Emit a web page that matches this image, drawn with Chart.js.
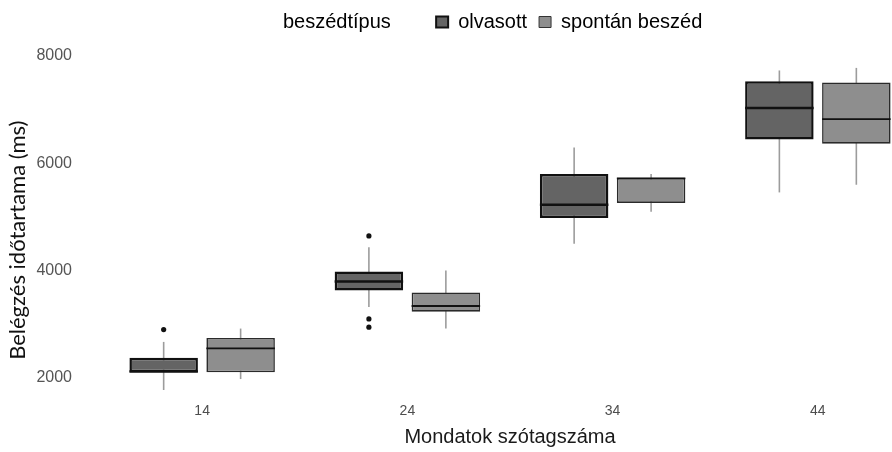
<!DOCTYPE html>
<html>
<head>
<meta charset="utf-8">
<script src="https://cdn.jsdelivr.net/npm/chart.js@4/dist/chart.umd.min.js"></script>
<style>
    body { margin: 0; background: #fff; overflow: hidden; }
    #wrap { width: 941px; height: 452px; }
</style>
</head>
<body>
<div id="wrap"><canvas id="boxChart"></canvas></div>
<script>
// Categories (sentence length in syllables)
const groups = ['14', '24', '34', '44'];
const xPos = [1, 2, 3, 4];
const yTicks = [2000, 4000, 6000, 8000];

// olvasott (read speech)
const readLow  = [1768, 3316, 4494, 5454];
const readQ1   = [2097, 3626, 4978, 6439];
const readMed  = [2115, 3794, 5225, 7028];
const readQ3   = [2368, 3980, 5796, 7530];
const readHigh = [2665, 4431, 6290, 7729];
const readOut  = [[2896], [4643, 3093, 2939], [], []];

// spontán beszéd (spontaneous speech)
const spontLow  = [1972, 2914, 5095, 5597];
const spontQ1   = [2097, 3230, 5257, 6364];
const spontMed  = [2543, 3335, 5715, 6823];
const spontQ3   = [2740, 3589, 5727, 7506];
const spontHigh = [2914, 3998, 5796, 7777];
const spontOut  = [[], [], [], []];

const DARK = '#646464';
const LIGHT = '#8e8e8e';

// per dataset extras for the plugin
const boxStats = [
    { low: readLow, med: readMed, high: readHigh, out: readOut, medWidth: 2.5 },
    { low: spontLow, med: spontMed, high: spontHigh, out: spontOut, medWidth: 1.8 }
];

// Whiskers behind, medians + outliers on top
const boxplotPlugin = {
    id: 'boxplotParts',
    beforeDatasetsDraw(chart) {
        const ctx = chart.ctx;
        const y = chart.scales.y;
        ctx.save();
        ctx.strokeStyle = '#9c9c9c';
        ctx.lineWidth = 1.6;
        boxStats.forEach((s, i) => {
            chart.getDatasetMeta(i).data.forEach((el, j) => {
                ctx.beginPath();
                ctx.moveTo(el.x, y.getPixelForValue(s.low[j]));
                ctx.lineTo(el.x, y.getPixelForValue(s.high[j]));
                ctx.stroke();
            });
        });
        ctx.restore();
    },
    afterDatasetsDraw(chart) {
        const ctx = chart.ctx;
        const y = chart.scales.y;
        ctx.save();
        boxStats.forEach((s, i) => {
            chart.getDatasetMeta(i).data.forEach((el, j) => {
                const half = el.width / 2;
                const py = y.getPixelForValue(s.med[j]);
                ctx.strokeStyle = '#111';
                ctx.lineWidth = s.medWidth;
                ctx.beginPath();
                ctx.moveTo(el.x - half, py);
                ctx.lineTo(el.x + half, py);
                ctx.stroke();

                ctx.fillStyle = '#111';
                s.out[j].forEach(v => {
                    ctx.beginPath();
                    ctx.arc(el.x, y.getPixelForValue(v), 2.6, 0, Math.PI * 2);
                    ctx.fill();
                });
            });
        });
        ctx.restore();
    }
};

const ctx = document.getElementById('boxChart').getContext('2d');

new Chart(ctx, {
    type: 'bar',
    data: {
        datasets: [
            {
                label: 'olvasott',
                data: xPos.map((x, i) => ({ x: x, y: [readQ1[i], readQ3[i]] })),
                backgroundColor: DARK,
                borderColor: '#111',
                borderWidth: 2.5,
                borderSkipped: false
            },
            {
                label: 'spontán beszéd',
                data: xPos.map((x, i) => ({ x: x, y: [spontQ1[i], spontQ3[i]] })),
                backgroundColor: LIGHT,
                borderColor: '#2a2a2a',
                borderWidth: 1.6,
                borderSkipped: false
            }
        ]
    },
    options: {
        responsive: true,
        maintainAspectRatio: false,
        animation: false,
        barPercentage: 0.89,
        categoryPercentage: 0.75,
        layout: { padding: 0 },
        plugins: {
            tooltip: { enabled: false },
            legend: {
                position: 'top',
                onClick: null,
                labels: {
                    boxWidth: 12,
                    boxHeight: 11,
                    padding: 12,
                    color: '#111',
                    font: { family: "'Liberation Sans', Arial, sans-serif", size: 20 },
                    generateLabels: () => [
                        { text: '    beszédtípus      ', fillStyle: 'rgba(0,0,0,0)', strokeStyle: 'rgba(0,0,0,0)', lineWidth: 0, datasetIndex: -1 },
                        { text: 'olvasott', fillStyle: DARK, strokeStyle: '#111', lineWidth: 2, datasetIndex: 0 },
                        { text: 'spontán beszéd', fillStyle: LIGHT, strokeStyle: '#333', lineWidth: 1, datasetIndex: 1 }
                    ]
                }
            }
        },
        scales: {
            x: {
                type: 'linear',
                min: 0.4,
                max: 4.6,
                offset: false,
                grid: { display: false, drawTicks: false },
                border: { display: false },
                afterBuildTicks: (s) => { s.ticks = xPos.map(v => ({ value: v })); },
                afterFit: (s) => { s.height = 53; },
                ticks: {
                    padding: 4,
                    color: '#4d4d4d',
                    font: { family: "'Liberation Sans', Arial, sans-serif", size: 14 },
                    callback: (v, i) => groups[i]
                },
                title: {
                    display: true,
                    text: 'Mondatok szótagszáma',
                    color: '#1a1a1a',
                    padding: { top: 0, bottom: 3 },
                    font: { family: "'Liberation Sans', Arial, sans-serif", size: 20 }
                }
            },
            y: {
                min: 1600,
                max: 8260,
                grid: { display: false, drawTicks: false },
                border: { display: false },
                afterBuildTicks: (s) => { s.ticks = yTicks.map(v => ({ value: v })); },
                afterFit: (s) => { s.width = 79; },
                ticks: {
                    padding: 7,
                    color: '#555',
                    font: { family: "'Liberation Sans', Arial, sans-serif", size: 16 },
                    callback: (v) => String(v)
                },
                title: {
                    display: true,
                    text: 'Belégzés időtartama (ms)       ',
                    color: '#111',
                    padding: { top: 5, bottom: 0 },
                    font: { family: 'Lato, sans-serif', size: 22 }
                }
            }
        }
    },
    plugins: [boxplotPlugin]
});
</script>
</body>
</html>
